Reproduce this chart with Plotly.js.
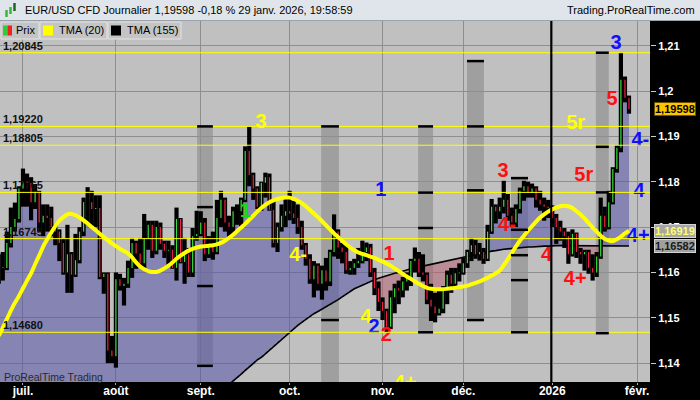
<!DOCTYPE html>
<html><head><meta charset="utf-8">
<script src="https://cdn.plot.ly/plotly-3.0.1.min.js"></script>
<style>html,body{margin:0;padding:0;background:#000;}#chart{width:700px;height:400px;}</style>
</head><body><div id="chart"></div>
<script>
// ---------- calendar (trading days, weekends and holidays skipped) ----------
const firstDay = '2025-06-23';
const lastAxisDay = '2026-02-02';
const holidays = ['2025-12-25', '2026-01-01'];

// ---------- daily prices EUR/USD ----------
const open = [
1.1580,1.1612,1.1610,1.1665,1.1700,1.1718,1.1785,1.1800,1.1797,1.1755,
1.1778,1.1710,1.1725,1.1720,1.1700,1.1690,1.1665,1.1600,1.1640,1.1595,
1.1627,1.1690,1.1755,1.1755,1.1740,1.1742,1.1590,1.1597,1.1428,1.1415,
1.1585,1.1570,1.1575,1.1610,1.1665,1.1642,1.1620,1.1675,1.1705,1.1648,
1.1700,1.1663,1.1648,1.1650,1.1610,1.1718,1.1623,1.1640,1.1600,1.1680,
1.1685,1.1710,1.1640,1.1660,1.1645,1.1720,1.1760,1.1710,1.1700,1.1735,
1.1735,1.1760,1.1868,1.1815,1.1785,1.1745,1.1798,1.1810,1.1738,1.1665,
1.1700,1.1725,1.1735,1.1730,1.1720,1.1700,1.1660,1.1630,1.1585,1.1615,
1.1575,1.1605,1.1580,1.1645,1.1690,1.1655,1.1645,1.1605,1.1610,1.1620,
1.1625,1.1645,1.1655,1.1600,1.1565,1.1535,1.1515,1.1480,1.1545,1.1565,
1.1560,1.1580,1.1590,1.1625,1.1630,1.1600,1.1595,1.1540,1.1525,1.1510,
1.1520,1.1565,1.1595,1.1575,1.1598,1.1600,1.1620,1.1645,1.1660,1.1640,
1.1645,1.1630,1.1690,1.1745,1.1735,1.1745,1.1760,1.1725,1.1710,1.1740,
1.1780,1.1790,1.1775,1.1785,1.1760,1.1750,1.1745,1.1742,1.1720,1.1700,
1.1690,1.1680,1.1640,1.1685,1.1645,1.1640,1.1645,1.1610,1.1600,1.1635,
1.1725,1.1700,1.1755,1.1828,1.1875,1.2025,1.1985];
const high = [
1.1640,1.1645,1.1690,1.1743,1.1754,1.1790,1.1829,1.1818,1.1810,1.1795,
1.1780,1.1750,1.1750,1.1745,1.1705,1.1695,1.1675,1.1705,1.1645,1.1685,
1.1700,1.1765,1.1788,1.1780,1.1770,1.1770,1.1600,1.1600,1.1460,1.1600,
1.1597,1.1588,1.1626,1.1676,1.1670,1.1676,1.1729,1.1714,1.1714,1.1714,
1.1710,1.1670,1.1670,1.1660,1.1743,1.1720,1.1676,1.1654,1.1698,1.1736,
1.1735,1.1720,1.1680,1.1690,1.1760,1.1780,1.1765,1.1725,1.1745,1.1750,
1.1765,1.1878,1.1922,1.1820,1.1790,1.1800,1.1820,1.1818,1.1760,1.1710,
1.1750,1.1765,1.1780,1.1758,1.1750,1.1714,1.1665,1.1640,1.1625,1.1620,
1.1615,1.1632,1.1650,1.1728,1.1695,1.1665,1.1663,1.1625,1.1630,1.1654,
1.1670,1.1666,1.1663,1.1610,1.1580,1.1545,1.1520,1.1560,1.1575,1.1582,
1.1590,1.1600,1.1630,1.1655,1.1645,1.1640,1.1600,1.1575,1.1555,1.1565,
1.1570,1.1604,1.1610,1.1610,1.1620,1.1632,1.1650,1.1676,1.1672,1.1665,
1.1654,1.1705,1.1762,1.1750,1.1765,1.1802,1.1773,1.1743,1.1750,1.1787,
1.1802,1.1800,1.1796,1.1790,1.1780,1.1765,1.1760,1.1748,1.1729,1.1714,
1.1698,1.1690,1.1695,1.1688,1.1654,1.1650,1.1650,1.1640,1.1645,1.1765,
1.1745,1.1780,1.1832,1.18805,1.20845,1.2032,1.1990];
const low = [
1.1575,1.1582,1.1605,1.1655,1.1690,1.1710,1.1745,1.1745,1.1715,1.1740,
1.1690,1.1680,1.1690,1.1680,1.1660,1.1625,1.1595,1.1555,1.1555,1.1590,
1.1620,1.1680,1.1710,1.1700,1.1700,1.1585,1.1553,1.1400,1.1400,1.1390,
1.1560,1.1527,1.1566,1.1588,1.1608,1.1615,1.1610,1.1650,1.1632,1.1640,
1.1650,1.1632,1.1615,1.1608,1.1582,1.1620,1.1575,1.1590,1.1590,1.1670,
1.1680,1.1625,1.1632,1.1628,1.1640,1.1700,1.1690,1.1675,1.1685,1.1705,
1.1700,1.1755,1.1790,1.1760,1.1740,1.1736,1.1765,1.1736,1.1655,1.1645,
1.1690,1.1700,1.1715,1.1707,1.1685,1.1650,1.1615,1.1575,1.1545,1.1560,
1.1540,1.1560,1.1570,1.1635,1.1630,1.1620,1.1597,1.1595,1.1595,1.1610,
1.1620,1.1625,1.1590,1.1550,1.1515,1.1495,1.1468,1.1475,1.1510,1.1530,
1.1545,1.1560,1.1570,1.1600,1.1590,1.1580,1.1530,1.1493,1.1490,1.1505,
1.1510,1.1530,1.1555,1.1565,1.1580,1.1595,1.1610,1.1625,1.1630,1.1626,
1.1619,1.1625,1.1685,1.1708,1.1718,1.1730,1.1714,1.1700,1.1700,1.1730,
1.1758,1.1765,1.1765,1.1743,1.1736,1.1714,1.1720,1.1700,1.1663,1.1670,
1.1654,1.1619,1.1635,1.1632,1.1619,1.1604,1.1597,1.1582,1.1590,1.1630,
1.1690,1.1695,1.1750,1.1820,1.1865,1.1975,1.1950];
const close = [
1.1612,1.1610,1.1665,1.1700,1.1718,1.1785,1.1800,1.1797,1.1755,1.1778,
1.1710,1.1725,1.1720,1.1700,1.1690,1.1665,1.1600,1.1640,1.1595,1.1627,
1.1690,1.1755,1.1755,1.1740,1.1742,1.1590,1.1597,1.1428,1.1415,1.1585,
1.1570,1.1575,1.1610,1.1665,1.1642,1.1620,1.1675,1.1705,1.1648,1.1700,
1.1663,1.1648,1.1650,1.1610,1.1718,1.1623,1.1640,1.1600,1.1680,1.1685,
1.1710,1.1640,1.1660,1.1645,1.1720,1.1760,1.1710,1.1700,1.1735,1.1735,
1.1760,1.1868,1.1815,1.1785,1.1745,1.1798,1.1810,1.1738,1.1665,1.1700,
1.1725,1.1735,1.1730,1.1720,1.1700,1.1660,1.1630,1.1585,1.1615,1.1575,
1.1605,1.1580,1.1645,1.1690,1.1655,1.1645,1.1605,1.1610,1.1620,1.1625,
1.1645,1.1655,1.1600,1.1565,1.1535,1.1515,1.1480,1.1545,1.1565,1.1560,
1.1580,1.1590,1.1625,1.1630,1.1600,1.1595,1.1540,1.1525,1.1510,1.1520,
1.1565,1.1595,1.1575,1.1598,1.1600,1.1620,1.1645,1.1660,1.1640,1.1645,
1.1630,1.1690,1.1745,1.1735,1.1745,1.1760,1.1725,1.1710,1.1740,1.1780,
1.1790,1.1775,1.1785,1.1760,1.1750,1.1745,1.1742,1.1720,1.1700,1.1690,
1.1680,1.1640,1.1685,1.1645,1.1640,1.1645,1.1610,1.1600,1.1635,1.1725,
1.1700,1.1755,1.1828,1.1875,1.2025,1.1985,1.19598];

// ---------- indicators ----------
const tma20 = [
1.1460,1.1478,1.1497,1.1516,1.1533,1.1548,1.1565,1.1582,1.1598,1.1618,
1.1637,1.1657,1.1673,1.1688,1.1702,1.1714,1.1722,1.1728,1.1729,1.1726,
1.1721,1.1715,1.1708,1.1700,1.1693,1.1685,1.1678,1.1671,1.1664,1.1658,
1.1652,1.1647,1.1642,1.1633,1.1622,1.1613,1.1607,1.1603,1.1601,1.1601,
1.1604,1.1609,1.1615,1.1622,1.1630,1.1637,1.1643,1.1648,1.1652,1.1655,
1.1657,1.1658,1.1659,1.1660,1.1662,1.1665,1.1670,1.1676,1.1683,1.1691,
1.1699,1.1707,1.1716,1.1725,1.1734,1.1742,1.1749,1.1755,1.1759,1.1762,
1.1764,1.1765,1.1765,1.1762,1.1758,1.1753,1.1746,1.1738,1.1730,1.1722,
1.1713,1.1704,1.1695,1.1686,1.1678,1.1670,1.1662,1.1655,1.1649,1.1644,
1.1641,1.1638,1.1635,1.1632,1.1628,1.1624,1.1620,1.1615,1.1609,1.1603,
1.1597,1.1591,1.1586,1.1580,1.1575,1.1570,1.1566,1.1564,1.1563,1.1563,
1.1563,1.1564,1.1565,1.1566,1.1568,1.1569,1.1571,1.1574,1.1577,1.1580,
1.1584,1.1588,1.1593,1.1598,1.1604,1.1616,1.1629,1.1643,1.1657,1.1670,
1.1681,1.1692,1.1702,1.1712,1.1721,1.1728,1.1734,1.1739,1.1743,1.1746,
1.1747,1.1746,1.1742,1.1735,1.1728,1.1719,1.1709,1.1699,1.1690,1.1681,
1.1674,1.1670,1.1669,1.1673,1.1679,1.1686,1.16919];
const tma155 = [
1.0930,1.0937,1.0945,1.0952,1.0960,1.0967,1.0975,1.0982,1.0990,1.0997,
1.1005,1.1012,1.1020,1.1027,1.1035,1.1042,1.1050,1.1057,1.1065,1.1072,
1.1080,1.1087,1.1095,1.1102,1.1110,1.1117,1.1125,1.1132,1.1140,1.1147,
1.1155,1.1162,1.1170,1.1177,1.1185,1.1192,1.1200,1.1207,1.1215,1.1222,
1.1230,1.1237,1.1245,1.1252,1.1260,1.1267,1.1275,1.1282,1.1290,1.1297,
1.1305,1.1312,1.1320,1.1327,1.1335,1.1342,1.1348,1.1353,
1.1360,1.1368,1.1376,1.1384,1.1392,1.1400,1.1407,1.1413,1.1421,1.1429,
1.1437,1.1445,1.1453,1.1461,1.1469,1.1476,1.1483,1.1490,1.1497,1.1503,
1.1509,1.1514,1.1519,1.1524,1.1529,1.1534,1.1540,1.1546,1.1552,1.1559,
1.1564,1.1568,1.1572,1.1577,1.1581,1.1584,1.1587,1.1590,1.1593,1.1595,
1.1598,1.1600,1.1603,1.1605,1.1608,1.1610,1.1612,1.1614,1.1616,1.1618,
1.1620,1.1622,1.1624,1.1626,1.1628,1.1630,1.1632,1.1634,1.1636,1.1638,
1.1640,1.1642,1.1643,1.1645,1.1647,1.1648,1.1650,1.1651,1.1652,1.1653,
1.1654,1.1655,1.1655,1.1656,1.1656,1.1657,1.1657,1.1658,1.1658,1.1659,
1.1659,1.1659,1.1659,1.1659,1.1659,1.1659,1.1659,1.1659,1.1659,1.1659,
1.1659,1.1659,1.1659,1.1658,1.1658,1.1658,1.1658,1.1658,1.16582];

// ---------- axis ticks ----------
const monthTickDays = ['2025-07-01','2025-08-01','2025-09-01','2025-10-01','2025-11-03','2025-12-01','2026-01-02','2026-02-02'];
const monthTickLabels = ['juil.','août','sept.','oct.','nov.','déc.','2026','févr.'];
const yTickVals = [1.14,1.15,1.16,1.17,1.18,1.19,1.20,1.21];
const yTickLabels = ['1,14','1,15','1,16','1,17','1,18','1,19','1,2','1,21'];
const yearSeparatorDay = '2026-01-02';

// ---------- horizontal levels ----------
const levelValues = [1.20845,1.19220,1.18805,1.17765,1.16745,1.14680];
const levelLabels = ['1,20845','1,19220','1,18805','1,17765','1,16745','1,14680'];

// ---------- time zones (bar index span, price span, marks) ----------
const bandFrom   = [49.1, 79.8, 103.8, 115.9, 126.8, 147.8];
const bandTo     = [53.0, 84.2, 107.5, 120.1, 131.0, 151.0];
const bandTop    = [1.1922, 1.1922, 1.1922, 1.2066, 1.1808, 1.20845];
const bandBottom = [1.1394, 1.1300, 1.1468, 1.1495, 1.1468, 1.1466];
const bandMarks  = [
  [1.1922, 1.1744, 1.1570, 1.1394],
  [1.1922, 1.1495],
  [1.1922, 1.1776, 1.1698, 1.1468],
  [1.2066, 1.1922, 1.1781, 1.1495],
  [1.1808, 1.1694, 1.1638, 1.1583, 1.1468],
  [1.20845, 1.1877, 1.17765, 1.1466]];

// ---------- wave labels ----------
const waveText  = ['3','1','4-','1','1','4','2','2','4+','3','4-','4','4+','5r','5r','3','5','4-','4','4+'];
const waveColor = ['yellow','green','yellow','blue','red','yellow','blue','red','yellow','red','red','red','red','yellow','red','blue','red','blue','blue','blue'];
const waveBar   = [64.9, 61.0, 74.1, 94.6, 96.6, 90.9, 92.9, 95.9, 100.6, 124.8, 125.8, 135.6, 142.7, 142.8, 144.8, 152.8, 151.8, 158.8, 158.5, 158.3];
const wavePrice = [1.19306,1.17322,1.16362,1.17791,1.16385,1.14996,1.14764,1.14609,1.13535,1.18204,1.17013,1.16373,1.15844,1.19262,1.18137,1.21035,1.19813,1.18898,1.17763,1.16792];

// =====================================================================
function tradingDays(from, to, skip) {
  const out = []; const d = new Date(from + 'T00:00:00Z'); const end = new Date(to + 'T00:00:00Z');
  while (d <= end) { const wd = d.getUTCDay(); const s = d.toISOString().slice(0, 10);
    if (wd !== 0 && wd !== 6 && !skip.includes(s)) out.push(s); d.setUTCDate(d.getUTCDate() + 1); }
  return out;
}
const days = tradingDays(firstDay, lastAxisDay, holidays);
const idx = close.map((_, i) => i);
const tickIdx = monthTickDays.map(d => days.indexOf(d));
const sepIdx = days.indexOf(yearSeparatorDay);
const fmt = v => v.toFixed(5).replace('.', ',');

const PLOT_W = 650, PLOT_TOP = 21, PLOT_BOT = 382, PLOT_H = PLOT_BOT - PLOT_TOP;
const PX = p => p / PLOT_W, PY = p => (PLOT_BOT - p) / PLOT_H;

const colorMap = {yellow:'#ffff00', red:'#ff1010', blue:'#1010ff', green:'#10dd10'};
const FONT = 'Liberation Sans, Arial, sans-serif';

// candle segments
const hlX = [], hlY = [], upX = [], upY = [], dnX = [], dnY = [];
idx.forEach(i => {
  hlX.push(i, i, null); hlY.push(low[i], high[i], null);
  if (close[i] >= open[i]) { upX.push(i, i, null); upY.push(open[i], close[i], null); }
  else { dnX.push(i, i, null); dnY.push(open[i], close[i], null); }
});
const zoneUp = close.map((c, i) => Math.max(c, tma155[i]));
const zoneDn = close.map((c, i) => Math.min(c, tma155[i]));

const traces = [
  {x: idx, y: tma155, mode: 'lines', line: {width: 0, shape: 'hvh'}, hoverinfo: 'skip', showlegend: false},
  {x: idx, y: zoneUp, mode: 'lines', line: {width: 0, shape: 'hvh'}, fill: 'tonexty', fillcolor: 'rgba(84,82,168,0.55)', hoverinfo: 'skip', showlegend: false},
  {x: idx, y: tma155, mode: 'lines', line: {width: 0, shape: 'hvh'}, hoverinfo: 'skip', showlegend: false},
  {x: idx, y: zoneDn, mode: 'lines', line: {width: 0, shape: 'hvh'}, fill: 'tonexty', fillcolor: 'rgba(180,88,108,0.5)', hoverinfo: 'skip', showlegend: false},
  {x: idx, y: tma155, mode: 'lines', line: {color: '#000', width: 1.6}, name: 'TMA (155)', showlegend: false},
  {x: hlX, y: hlY, mode: 'lines', line: {color: '#000', width: 4.2}, connectgaps: false, showlegend: false},
  {x: upX, y: upY, mode: 'lines', line: {color: '#3ddc3d', width: 1.2}, connectgaps: false, showlegend: false},
  {x: dnX, y: dnY, mode: 'lines', line: {color: '#ee2244', width: 1.2}, connectgaps: false, showlegend: false},
  {x: idx, y: tma20, mode: 'lines', line: {color: '#ffff00', width: 4, shape: 'spline', smoothing: 0.6}, name: 'TMA (20)', showlegend: false},
  {x: waveBar, y: wavePrice, mode: 'text', text: waveText, cliponaxis: true,
   textfont: {family: FONT, size: 20, weight: 'bold', color: waveColor.map(c => colorMap[c])}, hoverinfo: 'skip', showlegend: false}
];

const shapes = [];
bandFrom.forEach((b, k) => {
  shapes.push({type: 'rect', xref: 'x', yref: 'y', x0: b, x1: bandTo[k], y0: bandBottom[k], y1: bandTop[k],
    fillcolor: 'rgba(0,0,0,0.17)', line: {width: 0}, layer: 'below'});
});
levelValues.forEach(v => shapes.push({type: 'line', xref: 'paper', yref: 'y', x0: 0, x1: 1, y0: v, y1: v,
  line: {color: '#ffff00', width: 1}, layer: 'above'}));
bandMarks.forEach((marks, k) => marks.forEach(m => shapes.push({type: 'line', xref: 'x', yref: 'y',
  x0: bandFrom[k], x1: bandTo[k], y0: m, y1: m, line: {color: '#000', width: 2.5}, layer: 'above'})));
shapes.push({type: 'line', xref: 'x', yref: 'paper', x0: sepIdx - 0.25, x1: sepIdx - 0.25, y0: 0, y1: 1,
  line: {color: '#000', width: 2}, layer: 'above'});
// header bar
shapes.push({type: 'rect', xref: 'paper', yref: 'paper', x0: 0, x1: PX(700), y0: PY(20.5), y1: PY(-1),
  fillcolor: '#dfe5ea', line: {width: 0}});
shapes.push({type: 'line', xref: 'paper', yref: 'paper', x0: 0, x1: PX(700), y0: PY(20.5), y1: PY(20.5),
  line: {color: '#9aa3ab', width: 1}});
// header icon
[[6.5, 10, 17, '#33bb33'], [10.5, 7, 14, '#33bb33'], [14.5, 3, 11, '#226622']].forEach(c => {
  shapes.push({type: 'line', xref: 'paper', yref: 'paper', x0: PX(c[0]), x1: PX(c[0]), y0: PY(c[1]), y1: PY(c[2]),
    line: {color: c[3], width: 2.5}});
});
// legend boxes
[[1, 39], [40, 107], [108, 181]].forEach(b => shapes.push({type: 'rect', xref: 'paper', yref: 'paper',
  x0: PX(b[0]), x1: PX(b[1]), y0: PY(39), y1: PY(22), fillcolor: '#c4c4c4', line: {color: '#e4e4e4', width: 1}, layer: 'above'}));
[[3, 7.5, '#33cc33'], [7.5, 12, '#ee2222'], [43, 53, '#ffff00'], [111, 121, '#000000']].forEach(s =>
  shapes.push({type: 'rect', xref: 'paper', yref: 'paper', x0: PX(s[0]), x1: PX(s[1]), y0: PY(35.5), y1: PY(25.5),
    fillcolor: s[2], line: {width: 0}, layer: 'above'}));

const annotations = [
  {xref: 'paper', yref: 'paper', x: PX(23), y: PY(10.5), xanchor: 'left', yanchor: 'middle', showarrow: false,
   text: 'EUR/USD CFD Journalier ' + fmt(close[close.length - 1]) + ' -0,18 % 29 janv. 2026, 19:58:59',
   font: {family: FONT, size: 11, color: '#000'}},
  {xref: 'paper', yref: 'paper', x: PX(697), y: PY(10.5), xanchor: 'right', yanchor: 'middle', showarrow: false,
   text: 'Trading.ProRealTime.com', font: {family: FONT, size: 11, color: '#000'}},
  {xref: 'paper', yref: 'paper', x: PX(14), y: PY(30.5), xanchor: 'left', yanchor: 'middle', showarrow: false,
   text: 'Prix', font: {family: FONT, size: 11, color: '#000'}},
  {xref: 'paper', yref: 'paper', x: PX(57), y: PY(30.5), xanchor: 'left', yanchor: 'middle', showarrow: false,
   text: 'TMA (20)', font: {family: FONT, size: 11, color: '#000'}},
  {xref: 'paper', yref: 'paper', x: PX(125), y: PY(30.5), xanchor: 'left', yanchor: 'middle', showarrow: false,
   text: 'TMA (155)', font: {family: FONT, size: 11, color: '#000'}},
  {xref: 'paper', yref: 'paper', x: PX(2), y: PY(377), xanchor: 'left', yanchor: 'middle', showarrow: false,
   text: 'ProRealTime Trading', font: {family: FONT, size: 10.5, color: '#2a2a2a'}},
  {xref: 'paper', yref: 'y', x: PX(654), y: close[close.length - 1], xanchor: 'left', yanchor: 'middle', showarrow: false,
   text: fmt(close[close.length - 1]), bgcolor: '#ffc400', bordercolor: '#6a5000', borderwidth: 1, borderpad: 0,
   font: {family: FONT, size: 11, weight: 'bold', color: '#000'}},
  {xref: 'paper', yref: 'y', x: PX(654), y: tma20[tma20.length - 1], xanchor: 'left', yanchor: 'middle', showarrow: false,
   text: fmt(tma20[tma20.length - 1]), bgcolor: '#a6a6a6', bordercolor: '#d2d2d2', borderwidth: 1, borderpad: 0,
   font: {family: FONT, size: 11, weight: 'bold', color: '#ffff66'}},
  {xref: 'paper', yref: 'y', x: PX(654), y: tma155[tma155.length - 1], xanchor: 'left', yanchor: 'middle', showarrow: false,
   text: fmt(tma155[tma155.length - 1]), bgcolor: '#a0a0a0', bordercolor: '#d2d2d2', borderwidth: 1, borderpad: 0,
   font: {family: FONT, size: 11, weight: 'bold', color: '#1a1a1a'}}
];
levelValues.forEach((v, k) => annotations.push({xref: 'paper', yref: 'y', x: PX(2), y: v, xanchor: 'left', yanchor: 'bottom',
  showarrow: false, text: levelLabels[k], borderpad: 0, font: {family: FONT, size: 11, weight: 'bold', color: '#111'}}));

const layout = {
  width: 700, height: 400,
  margin: {l: 0, r: 700 - PLOT_W, t: PLOT_TOP, b: 400 - PLOT_BOT, pad: 0},
  paper_bgcolor: '#000', plot_bgcolor: '#c0c0c0',
  separators: ', ',
  font: {family: FONT},
  showlegend: false, hovermode: false,
  xaxis: {range: [0.31, 161.2], tickmode: 'array', tickvals: tickIdx, ticktext: monthTickLabels,
    showgrid: true, gridcolor: '#8e8e8e', gridwidth: 1, zeroline: false, showline: false,
    ticks: 'outside', ticklen: 2, tickcolor: '#aaaaaa', ticklabelstandoff: -4,
    tickfont: {family: FONT, size: 12, weight: 'bold', color: '#fff'}, fixedrange: true},
  yaxis: {range: [1.13584, 1.21544], side: 'right', tickmode: 'array', tickvals: yTickVals, ticktext: yTickLabels,
    showgrid: true, gridcolor: '#8e8e8e', gridwidth: 1, zeroline: false, showline: false,
    ticks: 'outside', ticklen: 5, tickcolor: '#cccccc',
    tickfont: {family: FONT, size: 11, weight: 'bold', color: '#fff'}, fixedrange: true},
  shapes: shapes, annotations: annotations
};

Plotly.newPlot('chart', traces, layout, {staticPlot: true, displayModeBar: false});
</script>
</body></html>
